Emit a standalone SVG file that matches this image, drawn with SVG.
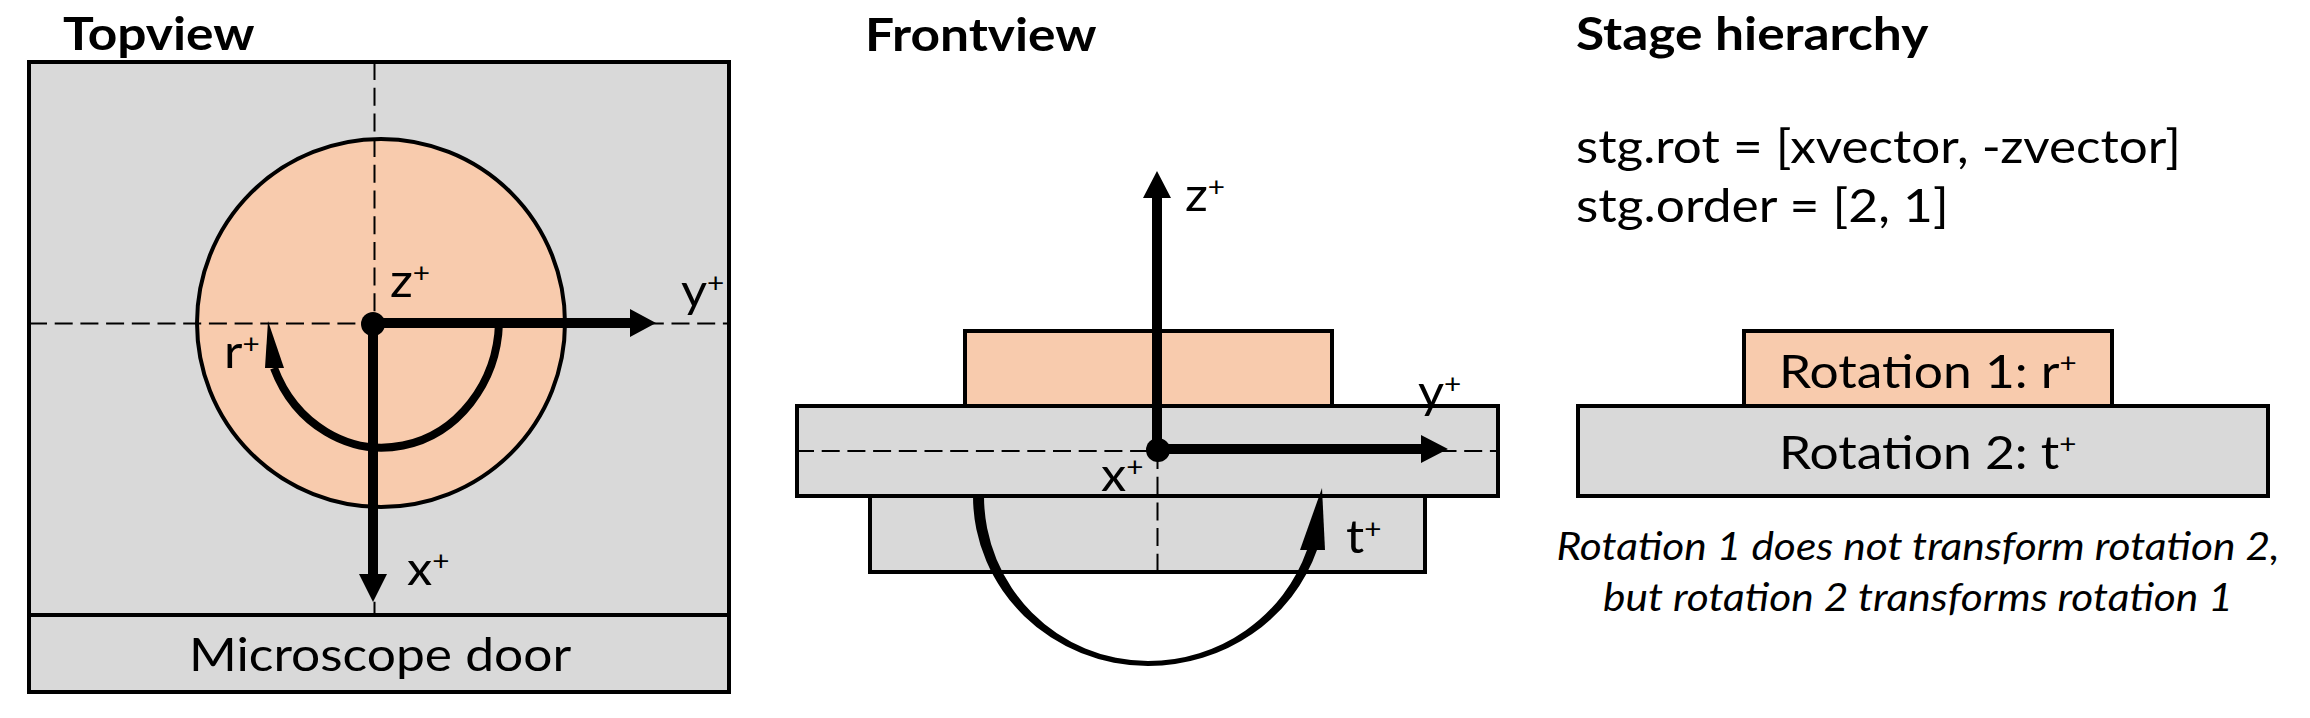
<svg xmlns="http://www.w3.org/2000/svg" width="2310" height="718" viewBox="0 0 2310 718">
<defs><style>
text{font-family:"Lato","Liberation Sans",sans-serif;fill:#000}
.h{font-weight:700;font-size:45px}
.t{font-size:47px}
.a{font-size:46px}
.i{font-size:39px;font-style:italic}
.s{font-size:27px}
.g{fill:#d9d9d9;stroke:#000;stroke-width:4}
.o{fill:#f8cbad;stroke:#000;stroke-width:4}
.d{fill:none;stroke:#000;stroke-width:2;stroke-dasharray:18 7.700}
.k{fill:none;stroke:#000;stroke-width:10}
.r{fill:none;stroke:#000;stroke-width:8}
</style></defs>
<rect width="2310" height="718" fill="#fff"/>
<g id="topview">
<text class="h" transform="translate(63 49.500) scale(1.144 1)">Topview</text>
<rect id="top-stage" class="g" x="29" y="62" width="700" height="553"/>
<rect id="door" class="g" x="29" y="615" width="700" height="77"/>
<text class="t" transform="translate(189 671) scale(1.096 1)">Microscope door</text>
<circle id="top-disc" class="o" cx="381" cy="323" r="184"/>
</g>
<g id="frontview">
<text class="h" transform="translate(865 51) scale(1.144 1)">Frontview</text>
<rect id="front-lower" class="g" x="870" y="496" width="555" height="76"/>
<rect id="front-disc" class="o" x="965" y="331" width="367" height="75"/>
<rect id="front-stage" class="g" x="797" y="406" width="701" height="90"/>
</g>
<g id="hierarchy">
<text class="h" transform="translate(1576 49.500) scale(1.144 1)">Stage hierarchy</text>
<text class="t" transform="translate(1576 163) scale(1.09 1)">stg.rot = [xvector, -zvector]</text>
<text class="t" transform="translate(1576 222) scale(1.096 1)">stg.order = [2, 1]</text>
<rect id="rot1" class="o" x="1744" y="331" width="368" height="75"/>
<rect id="rot2" class="g" x="1578" y="406" width="690" height="90"/>
<text class="t" transform="translate(1779 388) scale(1.096 1)">Rotation 1: r<tspan class="s" dy="-16">+</tspan></text>
<text class="t" transform="translate(1779 469) scale(1.096 1)">Rotation 2: t<tspan class="s" dy="-16">+</tspan></text>
<text class="i" transform="translate(1918 560) scale(1.09 1)" text-anchor="middle">Rotation 1 does not transform rotation 2,</text>
<text class="i" transform="translate(1918 611) scale(1.09 1)" text-anchor="middle">but rotation 2 transforms rotation 1</text>
</g>
<g id="connectors">
<path class="d" d="M374.500 62V615M29 323.500H729"/>
<path class="r" d="M499 323A117 129 0 0 1 274 368"/>
<path d="M268 321L284 368L265 368Z"/>
<path class="k" d="M372 323H632M373 323V576"/>
<path d="M630 309L656 323L630 337ZM359 574H387L373 602Z"/>
<circle cx="373" cy="324" r="12"/>
<path class="d" d="M796 451H1497M1157.500 451V572"/>
<path d="M973 496A175 170 0 0 0 1148 666A178 170 0 0 0 1317 550L1307 550A168 165 0 0 1 1148 661A164 165 0 0 1 984 496Z"/>
<path d="M1322 488L1325 550L1300 550Z"/>
<path class="k" d="M1157 196V449M1159 449H1423"/>
<path d="M1157 171L1171 198H1143ZM1421 435L1448 449L1421 463Z"/>
<circle cx="1158" cy="450" r="12"/>
</g>
<g id="labels">
<text class="a" transform="translate(390 297) scale(1.1 1)">z<tspan class="s" dy="-15">+</tspan></text>
<text class="a" transform="translate(681 307) scale(1.1 1)">y<tspan class="s" dy="-15">+</tspan></text>
<text class="a" transform="translate(224 368) scale(1.1 1)">r<tspan class="s" dy="-15">+</tspan></text>
<text class="a" transform="translate(407 585) scale(1.1 1)">x<tspan class="s" dy="-15">+</tspan></text>
<text class="a" transform="translate(1185 211) scale(1.1 1)">z<tspan class="s" dy="-15">+</tspan></text>
<text class="a" transform="translate(1418 408) scale(1.1 1)">y<tspan class="s" dy="-15">+</tspan></text>
<text class="a" transform="translate(1101 490.500) scale(1.1 1)">x<tspan class="s" dy="-15">+</tspan></text>
<text class="a" transform="translate(1346 553) scale(1.1 1)">t<tspan class="s" dy="-15">+</tspan></text>
</g>
</svg>
